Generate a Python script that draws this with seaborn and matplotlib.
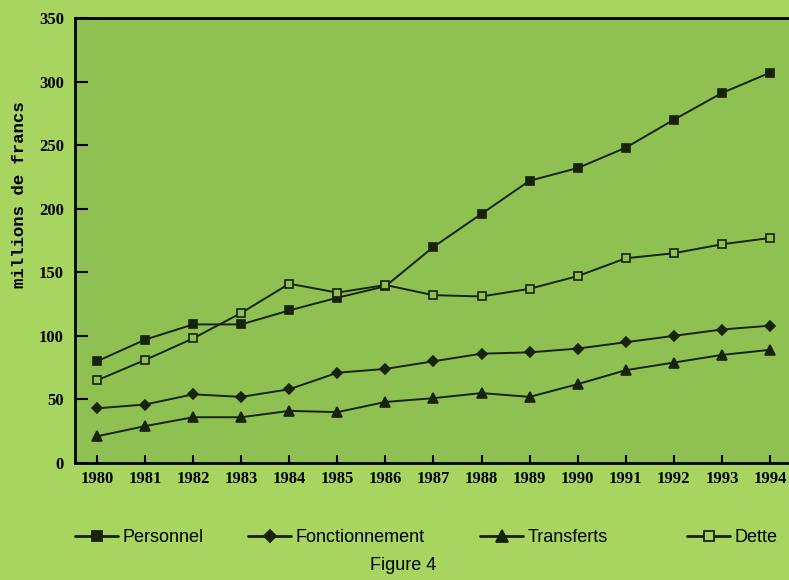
import matplotlib
matplotlib.use("Agg")
import matplotlib.pyplot as plt
import seaborn as sns
import pandas as pd
from matplotlib.lines import Line2D

years = list(range(1980, 1995))
personnel = [80, 97, 109, 109, 120, 130, 139, 170, 196, 222, 232, 248, 270, 291, 307]
fonctionnement = [43, 46, 54, 52, 58, 71, 74, 80, 86, 87, 90, 95, 100, 105, 108]
transferts = [21, 29, 36, 36, 41, 40, 48, 51, 55, 52, 62, 73, 79, 85, 89]
dette = [65, 81, 98, 118, 141, 134, 140, 132, 131, 137, 147, 161, 165, 172, 177]
series_names = ["Personnel", "Fonctionnement", "Transferts", "Dette"]
yticks = [0, 50, 100, 150, 200, 250, 300, 350]

values = {"Personnel": personnel, "Fonctionnement": fonctionnement,
          "Transferts": transferts, "Dette": dette}
df = pd.DataFrame([{"annee": y, "serie": s, "valeur": v}
                   for s in series_names for y, v in zip(years, values[s])])

sns.set_theme(style="ticks")
outer_bg = "#a7d55f"
inner_bg = "#8fc152"
ink = "#18220f"

right_px = 805
fig = plt.figure(figsize=(7.89, 5.80), dpi=100, facecolor=outer_bg)
ax = fig.add_axes([75/789, 117/580, (right_px - 75)/789, (463-18)/580])
ax.set_facecolor(inner_bg)

styles = {
    "Personnel": dict(marker="s", mfc=ink, ms=5.5),
    "Fonctionnement": dict(marker="D", mfc=ink, ms=5),
    "Transferts": dict(marker="^", mfc=ink, ms=6.5),
    "Dette": dict(marker="s", mfc=inner_bg, ms=5.5),
}
for s in series_names:
    st = styles[s]
    sns.lineplot(data=df[df["serie"] == s], x="annee", y="valeur", ax=ax,
                 color=ink, lw=1.4, marker=st["marker"], markersize=st["ms"],
                 markerfacecolor=st["mfc"], markeredgecolor=ink,
                 markeredgewidth=1.2, legend=False)

ax.set_xlim(1980 - 22/48.07, 1980 + (right_px - 97) / 48.07)
ax.set_ylim(0, 350)
ax.set_xticks(years)
ax.set_yticks(yticks)
tick_font = dict(family="Liberation Serif", weight="bold", size=12)
ax.set_xticklabels([str(y) for y in years], fontdict=tick_font)
ax.set_yticklabels([str(v) for v in yticks], fontdict=tick_font)
ax.tick_params(axis="y", direction="in", length=9, width=1.5, pad=8, colors="black")
ax.tick_params(axis="x", direction="in", length=6, width=1.5, pad=6, colors="black")
ax.set_xlabel("")
ax.set_ylabel("")
for side in ["left", "bottom", "top"]:
    ax.spines[side].set_color("black")
    ax.spines[side].set_linewidth(2)
ax.spines["right"].set_visible(False)

fig.text(20/789, (580-195)/580, "millions de francs", rotation=90,
         ha="center", va="center", family="Liberation Mono", weight="bold",
         size=12.5, color="black")

leg_font = ["Liberation Sans", "DejaVu Sans"]
anchors = {"Personnel": 75, "Fonctionnement": 248, "Transferts": 480, "Dette": 687}
for s in series_names:
    st = styles[s]
    h = Line2D([], [], color=ink, lw=2, marker=st["marker"], markersize=st["ms"] + 1.5,
               markerfacecolor=st["mfc"] if s != "Dette" else outer_bg,
               markeredgecolor=ink, markeredgewidth=1.3)
    lg = fig.legend([h], [s], loc="center left",
                    bbox_to_anchor=(anchors[s]/789, (580-538)/580),
                    frameon=False, handlelength=2.4, handletextpad=0.25,
                    borderpad=0, borderaxespad=0,
                    prop=dict(family=leg_font, size=13))
    for t in lg.get_texts():
        t.set_color("black")

fig.text(403/789, (580-565)/580, "Figure 4", ha="center", va="center",
         family=leg_font, size=13, color="black")

fig.savefig("out.png", dpi=100, facecolor=outer_bg)
